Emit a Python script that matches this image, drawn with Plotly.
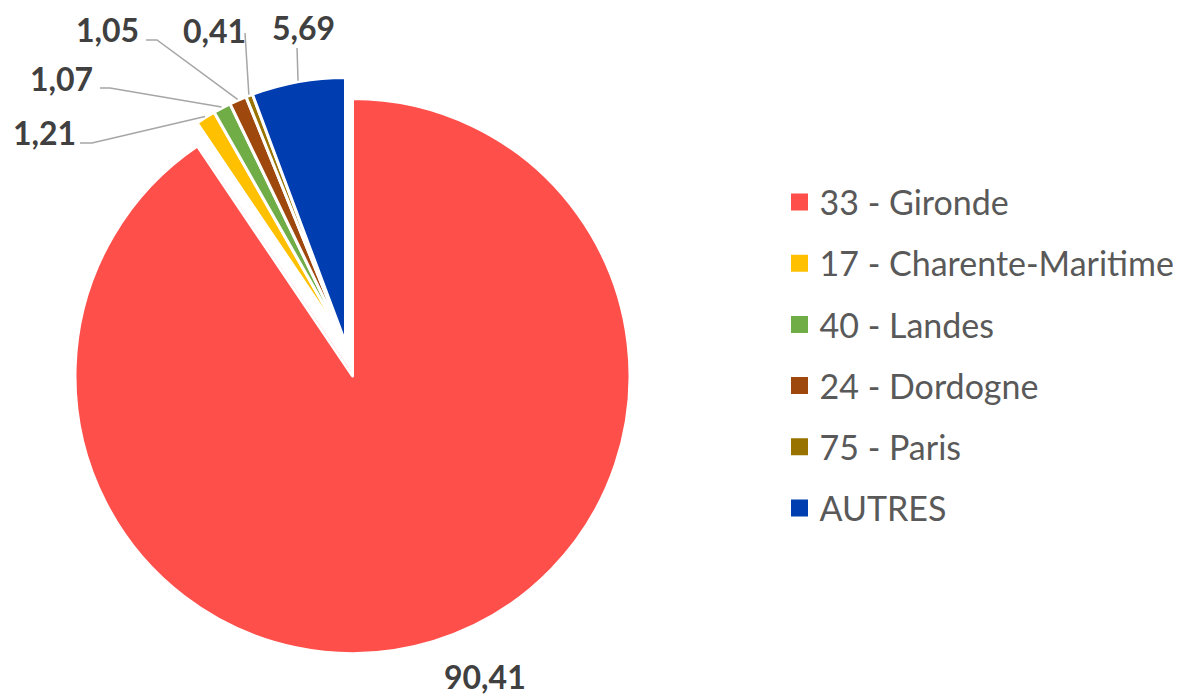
import math
import plotly.graph_objects as go

# ---------------- data ----------------
labels = ["33 - Gironde", "17 - Charente-Maritime", "40 - Landes",
          "24 - Dordogne", "75 - Paris", "AUTRES"]
values = [90.41, 1.21, 1.07, 1.05, 0.41, 5.69]
colors = ["#FF4F4B", "#FFC000", "#70AD47", "#9E480E", "#997300", "#003DB0"]

# ---------------- layout geometry (page pixels) ----------------
W, H = 1181, 697
PAGE_MARGIN = 8            # default <body> margin of the html page
FW, FH = W - PAGE_MARGIN, H - PAGE_MARGIN
TRANSPARENT = "rgba(0,0,0,0)"
BORDER = 3

RED_C = (352.5, 376.0)     # big (red) slice centre and radius
RED_R = 277.5
SMALL_C = (345.5, 343.0)   # small slices: common apex and radius
SMALL_R = 265.5


def px_x(x):
    return (x - PAGE_MARGIN) / FW


def px_y(y):
    return 1 - (y - PAGE_MARGIN) / FH


def domain_for(cx, cy, half):
    return dict(x=[px_x(cx - half), px_x(cx + half)],
                y=[px_y(cy + half), px_y(cy - half)])


total = sum(values)
fracs = [v / total for v in values]
starts = [sum(fracs[:i]) for i in range(len(fracs))]
mids = [(s + f / 2) * 360 for s, f in zip(starts, fracs)]

off = (RED_C[0] - SMALL_C[0], RED_C[1] - SMALL_C[1])
red_pull = math.hypot(*off) / SMALL_R
pulls_a = [red_pull] + [0] * (len(values) - 1)
half_a = SMALL_R * (1 + red_pull)

fig = go.Figure()

# legend entries: one tiny pie per label, hidden under the red slice
for lab, val, col in zip(labels, values, colors):
    fig.add_trace(go.Pie(
        labels=[lab], values=[val], sort=False,
        marker=dict(colors=[col], line=dict(color=col, width=5)),
        textinfo="none", hoverinfo="skip", showlegend=True, legendgroup=lab,
        domain=domain_for(450, 450, 2),
    ))

# small slices (red part hidden under the next trace)
fig.add_trace(go.Pie(
    labels=labels, values=values, sort=False, direction="clockwise", rotation=0,
    marker=dict(colors=colors, line=dict(color="white", width=BORDER)),
    pull=pulls_a, textinfo="none", showlegend=False,
    domain=domain_for(SMALL_C[0], SMALL_C[1], half_a),
))

# big red slice
fig.add_trace(go.Pie(
    labels=labels, values=values, sort=False, direction="clockwise", rotation=0,
    marker=dict(colors=[colors[0]] + [TRANSPARENT] * (len(values) - 1),
                line=dict(color=["white"] + [TRANSPARENT] * (len(values) - 1), width=BORDER)),
    textinfo="none", showlegend=False,
    domain=domain_for(RED_C[0], RED_C[1], RED_R),
))

# ---------------- data labels with leader lines ----------------
label_pos = [
    ((485, 676.5), None, None),
    ((44, 132.5), (80, 143), (92, 143)),
    ((61, 78), (100, 88), (110, 88)),
    ((107, 29.5), (146, 40), (157, 40)),
    ((214.3, 31), (245, 33), None),
    ((303, 27), (297, 48), None),
]

shapes = []
annotations = []
for i, (v, m) in enumerate(zip(values, mids)):
    (tx, ty), start, elbow = label_pos[i]
    annotations.append(dict(
        x=px_x(tx), y=px_y(ty), xref="paper", yref="paper",
        text=f"{v:.2f}".replace(".", ","), showarrow=False,
        xanchor="center", yanchor="middle",
        font=dict(family="Lato", size=32, color="#404040", weight="bold"),
    ))
    if start is not None:
        a = math.radians(m)
        ax = SMALL_C[0] + (SMALL_R + 1) * math.sin(a)
        ay = SMALL_C[1] - (SMALL_R + 1) * math.cos(a)
        pts = [start] + ([elbow] if elbow else []) + [(ax, ay)]
        path = "M " + " L ".join(f"{px_x(x):.5f},{px_y(y):.5f}" for x, y in pts)
        shapes.append(dict(type="path", path=path, xref="paper", yref="paper",
                           line=dict(color="#A6A6A6", width=1.5)))

fig.update_layout(
    width=FW, height=FH,
    margin=dict(l=0, r=0, t=0, b=0, autoexpand=False),
    paper_bgcolor="white", plot_bgcolor="white",
    showlegend=True,
    legend=dict(x=px_x(779.5), y=px_y(173.4), xanchor="left", yanchor="top",
                font=dict(family="Lato", size=34, color="#595959"),
                traceorder="grouped", tracegroupgap=14,
                bgcolor="rgba(0,0,0,0)"),
    shapes=shapes, annotations=annotations,
)

fig.write_html("out.html")
